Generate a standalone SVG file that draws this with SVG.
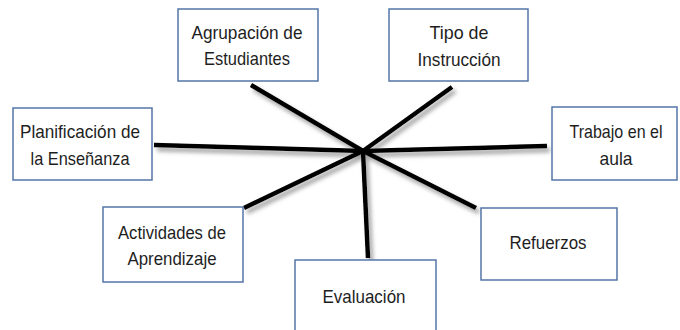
<svg xmlns="http://www.w3.org/2000/svg" width="680" height="330" viewBox="0 0 680 330">
<style>
.box{fill:#ffffff;stroke:#5475a8;stroke-width:1.5}
.t{font-family:"Liberation Sans",Arial,sans-serif;font-size:19px;fill:#1e1e1e;text-anchor:middle}
.ln{stroke:#000;stroke-width:4.5;stroke-linecap:butt;fill:none}
</style>
<defs>
<filter id="sh" x="-20%" y="-20%" width="140%" height="160%">
<feDropShadow dx="3" dy="4" stdDeviation="2" flood-color="#6e6e6e" flood-opacity="0.65"/>
</filter>
</defs>
<rect width="680" height="330" fill="#ffffff"/>
<g id="connectors" filter="url(#sh)">
<line class="ln" x1="251" y1="85" x2="363" y2="151"/>
<line class="ln" x1="452" y1="87" x2="363" y2="151"/>
<line class="ln" x1="154" y1="145" x2="363" y2="151"/>
<line class="ln" x1="363" y1="151" x2="547" y2="146"/>
<line class="ln" x1="244" y1="208" x2="363" y2="151"/>
<line class="ln" x1="363" y1="151" x2="476" y2="208"/>
<line class="ln" x1="363" y1="151" x2="368" y2="258"/>
</g>
<g id="agrupacion">
<rect class="box" x="178" y="9" width="140" height="72"/>
<text class="t" x="247" y="39" textLength="111" lengthAdjust="spacingAndGlyphs">Agrupación de</text>
<text class="t" x="247" y="65" textLength="86" lengthAdjust="spacingAndGlyphs">Estudiantes</text>
</g>
<g id="tipo">
<rect class="box" x="389" y="9" width="139" height="72"/>
<text class="t" x="459" y="39" textLength="59" lengthAdjust="spacingAndGlyphs">Tipo de</text>
<text class="t" x="459" y="66" textLength="83" lengthAdjust="spacingAndGlyphs">Instrucción</text>
</g>
<g id="planificacion">
<rect class="box" x="13" y="108" width="139" height="72"/>
<text class="t" x="80" y="138" textLength="120" lengthAdjust="spacingAndGlyphs">Planificación de</text>
<text class="t" x="80" y="165" textLength="99" lengthAdjust="spacingAndGlyphs">la Enseñanza</text>
</g>
<g id="trabajo">
<rect class="box" x="552" y="107" width="125" height="73"/>
<text class="t" x="616" y="138" textLength="93" lengthAdjust="spacingAndGlyphs">Trabajo en el</text>
<text class="t" x="616" y="165" textLength="33" lengthAdjust="spacingAndGlyphs">aula</text>
</g>
<g id="actividades">
<rect class="box" x="103" y="207" width="140" height="75"/>
<text class="t" x="172" y="239" textLength="108" lengthAdjust="spacingAndGlyphs">Actividades de</text>
<text class="t" x="172" y="265" textLength="89" lengthAdjust="spacingAndGlyphs">Aprendizaje</text>
</g>
<g id="refuerzos">
<rect class="box" x="481" y="208" width="136" height="72"/>
<text class="t" x="548" y="249" textLength="77" lengthAdjust="spacingAndGlyphs">Refuerzos</text>
</g>
<g id="evaluacion">
<rect class="box" x="295" y="260" width="141" height="80"/>
<text class="t" x="364" y="303" textLength="83" lengthAdjust="spacingAndGlyphs">Evaluación</text>
</g>
</svg>
